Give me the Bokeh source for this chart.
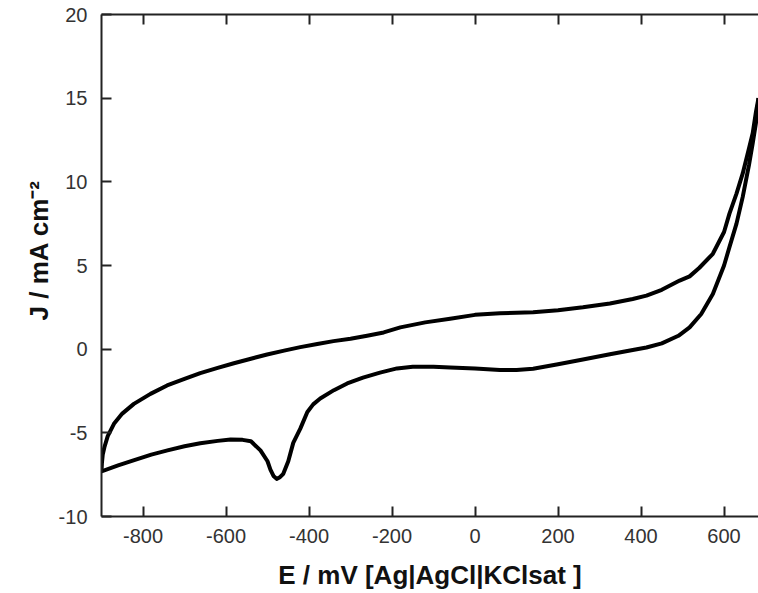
from bokeh.plotting import figure
from bokeh.models import (LinearAxis, FixedTicker, Range1d, Title,
                          PrintfTickFormatter, CustomLabelingPolicy)
from bokeh.embed import file_html
from bokeh.resources import INLINE

# Anodic (upper) branch: potential in mV, current density in mA/cm2
upper_E = [-900, -899, -897, -893, -885, -870, -850, -822, -782, -742, -700,
           -662, -620, -581, -540, -501, -460, -421, -380, -341, -300, -260,
           -220, -180, -120, -60, 0, 60, 140, 200, 260, 325, 380, 413, 450,
           493, 517, 540, 573, 600, 613, 630, 645, 660, 669, 677, 683]
upper_J = [-7.3, -6.8, -6.3, -5.86, -5.2, -4.46, -3.85, -3.27, -2.67, -2.17,
           -1.78, -1.43, -1.12, -0.84, -0.57, -0.32, -0.09, 0.12, 0.31, 0.48,
           0.62, 0.8, 1.0, 1.3, 1.6, 1.82, 2.05, 2.15, 2.21, 2.33, 2.5, 2.73,
           3.0, 3.2, 3.55, 4.1, 4.35, 4.85, 5.7, 7.0, 8.1, 9.3, 10.5, 12.0,
           12.9, 14.2, 15.0]

# Cathodic (lower) branch
lower_E = [-900, -860, -823, -780, -741, -700, -662, -620, -589, -560, -540,
           -517, -500, -493, -485, -478, -470, -462, -450, -438, -421, -404,
           -390, -373, -340, -308, -270, -229, -188, -150, -100, -60, 0, 60,
           100, 140, 200, 260, 325, 380, 413, 450, 490, 517, 545, 573, 600,
           613, 630, 645, 660, 669, 678, 683]
lower_J = [-7.3, -6.95, -6.65, -6.3, -6.05, -5.8, -5.62, -5.48, -5.4, -5.42,
           -5.5, -6.05, -6.7, -7.2, -7.6, -7.75, -7.65, -7.45, -6.7, -5.6,
           -4.75, -3.75, -3.3, -2.95, -2.45, -2.05, -1.7, -1.4, -1.15, -1.05,
           -1.05, -1.1, -1.15, -1.25, -1.25, -1.17, -0.9, -0.62, -0.3, -0.05,
           0.1, 0.35, 0.8, 1.3, 2.1, 3.3, 5.0, 6.1, 7.5, 9.1, 11.0, 12.3,
           13.7, 15.0]

x_ticks = [-800, -600, -400, -200, 0, 200, 400, 600]
y_ticks = [-10, -5, 0, 5, 10, 15, 20]

x_label = "E / mV [Ag|AgCl|KClsat ]"
y_label = "J / mA cm\u207b\u00b2"

FONT = "Liberation Sans"

p = figure(width=758, height=593, output_backend="svg", toolbar_location=None,
           x_range=Range1d(-900, 683), y_range=Range1d(-10, 20),
           x_axis_location=None, y_axis_location=None,
           min_border_left=101, min_border_right=0, min_border_top=14,
           min_border_bottom=77)
p.outline_line_color = None
p.xgrid.visible = False
p.ygrid.visible = False
p.background_fill_color = "white"
p.border_fill_color = "white"

no_labels = CustomLabelingPolicy(code="return new Set()")

def style(ax, labels=True):
    ax.axis_line_width = 2
    ax.axis_line_color = "#222222"
    ax.major_tick_line_width = 2
    ax.major_tick_line_color = "#222222"
    ax.major_tick_in = 10
    ax.major_tick_out = 0
    ax.minor_tick_in = 0
    ax.minor_tick_out = 0
    ax.formatter = PrintfTickFormatter(format="%d")
    ax.major_label_text_font = FONT
    ax.major_label_text_font_size = "20px"
    ax.major_label_text_color = "#333333"
    if not labels:
        ax.major_label_policy = no_labels
        ax.major_label_standoff = 0
        ax.major_label_text_font_size = "2px"

bottom = LinearAxis(ticker=FixedTicker(ticks=x_ticks))
style(bottom)
bottom.major_label_standoff = 12
bottom.axis_label = x_label
bottom.axis_label_text_font = FONT
bottom.axis_label_text_font_style = "bold"
bottom.axis_label_text_font_size = "26px"
bottom.axis_label_text_color = "#111111"
bottom.axis_label_standoff = 14
p.add_layout(bottom, "below")

left = LinearAxis(ticker=FixedTicker(ticks=y_ticks))
style(left)
left.major_label_standoff = 14
p.add_layout(left, "left")

top = LinearAxis(ticker=FixedTicker(ticks=x_ticks))
style(top, labels=False)
p.add_layout(top, "above")

p.line(upper_E, upper_J, line_color="black", line_width=4, line_join="round")
p.line(lower_E, lower_J, line_color="black", line_width=4, line_join="round")

ytitle = Title(text=y_label, align="left", offset=196,
               text_font=FONT, text_font_style="bold",
               text_font_size="26px", text_color="#111111", standoff=4)
p.add_layout(ytitle, "left")

open("out.html", "w").write(file_html(p, INLINE))
